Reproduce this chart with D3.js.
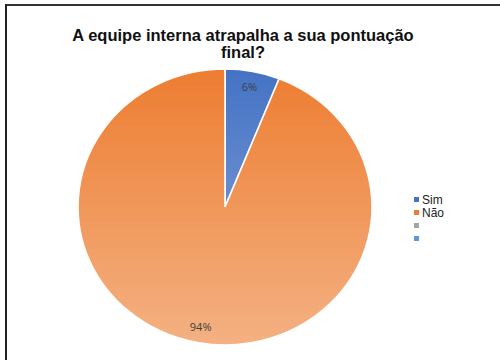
<!DOCTYPE html>
<html>
<head>
  <meta charset="utf-8">
  <title>Equipe interna</title>
  <script src="https://cdn.jsdelivr.net/npm/d3@7"></script>
  <style>
    body { margin: 0; background: #fff; }
  </style>
</head>
<body>
<div id="chart"></div>
<script>
  // data
  var categories = ["Sim", "Não", "", ""];
  var values = [6, 94, 0, 0];
  var colors = ["#4472C4", "#ED7D31", "#A5A5A5", "#5B9BD5"];
  var lightColors = ["#8FAADC", "#F4B183", "#C9C9C9", "#9DC3E6"];

  var width = 500, height = 360;
  var cx = 225, cy = 207, r = 138, sx = 147 / 138;

  var svg = d3.select("#chart").append("svg")
      .attr("width", width)
      .attr("height", height);

  // frame (top and left edges show in the picture)
  svg.append("line").attr("x1", 5).attr("y1", 5).attr("x2", 500).attr("y2", 5)
    .attr("stroke", "#333").attr("stroke-width", 2);
  svg.append("line").attr("x1", 6).attr("y1", 5).attr("x2", 6).attr("y2", 360)
    .attr("stroke", "#222").attr("stroke-width", 2);

  var defs = svg.append("defs");
  colors.forEach(function(c, i) {
    var g = defs.append("linearGradient")
      .attr("id", "grad" + i)
      .attr("gradientUnits", "userSpaceOnUse")
      .attr("x1", 0).attr("y1", -r).attr("x2", 0).attr("y2", r);
    g.append("stop").attr("offset", "0%").attr("stop-color", c);
    g.append("stop").attr("offset", "100%").attr("stop-color", lightColors[i]);
  });

  // title
  var title = svg.append("text")
    .attr("text-anchor", "middle")
    .attr("font-family", "Liberation Sans, Arial, sans-serif")
    .attr("font-weight", "bold")
    .attr("font-size", 16.5)
    .attr("fill", "#111");
  title.append("tspan").attr("x", 243).attr("y", 41).text("A equipe interna atrapalha a sua pontuação");
  title.append("tspan").attr("x", 243).attr("y", 58).text("final?");

  var data = categories.map(function(c, i) { return { name: c, value: values[i], i: i }; });

  var pie = d3.pie().sort(null).value(function(d) { return d.value; });
  var arc = d3.arc().innerRadius(0).outerRadius(r);
  var labelArc = d3.arc().innerRadius(122).outerRadius(122);

  var g = svg.append("g")
    .attr("transform", "translate(" + cx + "," + cy + ") scale(" + sx + ",1)");

  var arcs = pie(data);

  g.selectAll("path")
    .data(arcs.filter(function(d) { return d.data.value > 0; }))
    .enter().append("path")
    .attr("d", arc)
    .attr("fill", function(d) { return "url(#grad" + d.data.i + ")"; })
    .attr("stroke", "#fff")
    .attr("stroke-width", 1.5);

  var total = d3.sum(values);
  svg.append("g")
    .attr("transform", "translate(" + cx + "," + cy + ")")
    .selectAll("text")
    .data(arcs.filter(function(d) { return d.data.value > 0; }))
    .enter().append("text")
    .attr("x", function(d) { return labelArc.centroid(d)[0] * sx; })
    .attr("y", function(d) { return labelArc.centroid(d)[1]; })
    .attr("dy", "0.35em")
    .attr("text-anchor", "middle")
    .attr("font-family", "Open Sans, DejaVu Sans, sans-serif")
    .attr("font-size", 11)
    .attr("fill", "#404040")
    .text(function(d) { return Math.round(d.data.value / total * 100) + "%"; });

  // legend
  var legend = svg.append("g").attr("transform", "translate(414,200)");
  var item = legend.selectAll("g")
    .data(data)
    .enter().append("g")
    .attr("transform", function(d, i) { return "translate(0," + (i * 13) + ")"; });
  item.append("rect")
    .attr("x", 0).attr("y", -3).attr("width", 5).attr("height", 5)
    .attr("fill", function(d) { return colors[d.i]; });
  item.append("text")
    .attr("x", 8).attr("y", 0).attr("dy", "0.35em")
    .attr("font-family", "Liberation Sans, Arial, sans-serif")
    .attr("font-size", 12)
    .attr("fill", "#222")
    .text(function(d) { return d.name; });
</script>
</body>
</html>
